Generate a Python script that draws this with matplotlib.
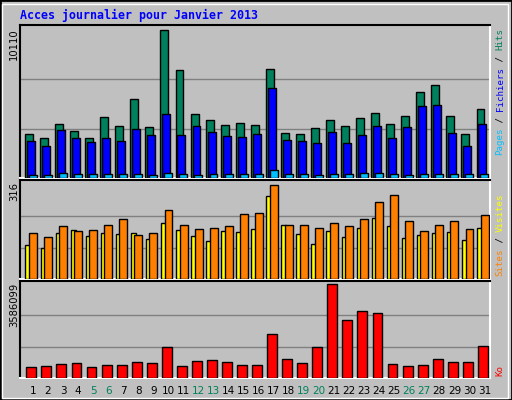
import matplotlib
matplotlib.use('Agg')
import matplotlib.pyplot as plt
from matplotlib.patches import Rectangle

days = list(range(1, 32))
weekend = [5, 6, 12, 13, 19, 20, 26, 27]

hits = [2977, 2702, 3663, 3183, 2702, 4143, 3526, 5378, 3457, 10110, 7367, 4349, 3937, 3594, 3731, 3594,
        7435, 3045, 2977, 3388, 3937, 3526, 4074, 4417, 3663, 4211, 5858, 6338, 4211, 2977, 4692]
files = [2497, 2154, 3251, 2702, 2428, 2702, 2497, 3320, 2908, 4349, 2908, 3526, 3114, 2840, 2771, 2977,
         6132, 2565, 2497, 2360, 3114, 2360, 2908, 3526, 2702, 3457, 4897, 4966, 3045, 2154, 3663]
pages = [226, 226, 364, 295, 295, 295, 295, 295, 226, 364, 295, 226, 295, 295, 295, 295,
         528, 295, 295, 226, 295, 295, 364, 364, 295, 226, 295, 295, 295, 295, 295]
visits = [155, 141, 176, 162, 165, 182, 200, 148, 155, 230, 182, 169, 172, 179, 217, 220,
          316, 182, 182, 172, 189, 176, 200, 258, 282, 196, 162, 182, 193, 169, 213]
sites = [114, 104, 155, 165, 145, 155, 152, 155, 135, 189, 165, 145, 128, 162, 158, 169,
         278, 182, 152, 117, 162, 141, 172, 203, 179, 138, 148, 155, 158, 131, 172]
kbytes = [405700, 445000, 523500, 562800, 405700, 484300, 484300, 602000, 562800, 1191000, 445000,
          641300, 680600, 602000, 484300, 484300, 1662000, 719800, 562800, 1191000, 3586099, 2211900,
          2565200, 2486700, 523500, 445000, 484300, 719800, 602000, 602000, 1230300]

W, H = 512, 400
fig = plt.figure(figsize=(W / 100, H / 100), dpi=100)
fig.patch.set_facecolor('#C0C0C0')
fig.patches.append(Rectangle((0, 0), 1, 1, transform=fig.transFigure, fill=False,
                             edgecolor='black', linewidth=2))
fig.patches.append(Rectangle((2 / W, 2 / H), 1 - 6 / W, 1 - 6 / H, transform=fig.transFigure,
                             fill=False, edgecolor='white', linewidth=1))

mono = 'DejaVu Sans Mono'
fig.text(20 / W, 1 - 15 / H, 'Acces journalier pour Janvier 2013', family=mono,
         fontsize=8.4, fontweight='bold', color='#0000FF', va='center', ha='left')

x0, x1 = 20, 490
xlo = 1 - 0.5 - 5 / 15.05
xhi = xlo + (x1 - x0) / 15.05


def panel(top, bottom):
    ax = fig.add_axes([x0 / W, 1 - bottom / H, (x1 - x0) / W, (bottom - top) / H])
    ax.set_facecolor('#C0C0C0')
    ax.set_xlim(xlo, xhi)
    ax.set_xticks([])
    ax.set_yticks([])
    ax.spines['top'].set_color('black')
    ax.spines['left'].set_color('black')
    ax.spines['bottom'].set_color('white')
    ax.spines['right'].set_color('white')
    for s in ax.spines.values():
        s.set_linewidth(1.5)
    return ax


def bars(ax, vals, left, width, color):
    ax.bar([d + left for d in days], vals, width=width, align='edge', color=color,
           edgecolor='black', linewidth=1, zorder=3)


def grid(ax, vmax):
    for f in (1 / 3, 2 / 3):
        ax.axhline(vmax * f, color='#808080', linewidth=1, zorder=1)


# top panel
ax1 = panel(25, 178)
ax1.set_ylim(0, max(hits) * 152 / 147.4)
grid(ax1, max(hits))
bars(ax1, hits, -0.5, 0.53, '#00805C')
bars(ax1, files, -0.37, 0.53, '#0000FF')
bars(ax1, pages, -0.24, 0.53, '#00C0FF')
fig.text(14 / W, 1 - 28 / H, str(max(hits)), rotation=90, fontsize=7.2, ha='center', va='top')

# middle panel
ax2 = panel(180, 279)
ax2.set_ylim(0, max(visits) * 97 / 92.4)
grid(ax2, max(visits))
bars(ax2, sites, -0.47, 0.34, '#FFFF00')
bars(ax2, visits, -0.23, 0.53, '#FF8000')
fig.text(14 / W, 1 - 182 / H, str(max(visits)), rotation=90, fontsize=7.2, ha='center', va='top')

# bottom panel
ax3 = panel(281, 378)
ax3.set_ylim(0, max(kbytes) * 94.4 / 91.4)
grid(ax3, max(kbytes))
bars(ax3, kbytes, -0.41, 0.66, '#FF0000')
fig.text(14 / W, 1 - 283 / H, str(max(kbytes)), rotation=90, fontsize=7.2, ha='center', va='top')

for d in days:
    c = '#00805C' if d in weekend else 'black'
    ax3.text(d + 0.03, -0.13, str(d), transform=ax3.get_xaxis_transform(), ha='center',
             va='center', fontsize=7.5, color=c)


def right_label(parts, y_bottom):
    y = y_bottom
    for txt, col in parts:
        t = fig.text(500 / W, y / H, txt, rotation=90, family=mono, fontsize=6.6,
                     color=col, ha='center', va='bottom')
        y += len(txt) * 5.5


right_label([('Pages', '#00C0FF'), (' / ', 'black'), ('Fichiers', '#0000FF'),
             (' / ', 'black'), ('Hits', '#00805C')], H - 155)
right_label([('Sites', '#FF8000'), (' / ', 'black'), ('Visites', '#FFFF00')], H - 276)
right_label([('Ko', '#FF0000')], H - 376)

fig.savefig('out.png', dpi=100, facecolor=fig.get_facecolor())
